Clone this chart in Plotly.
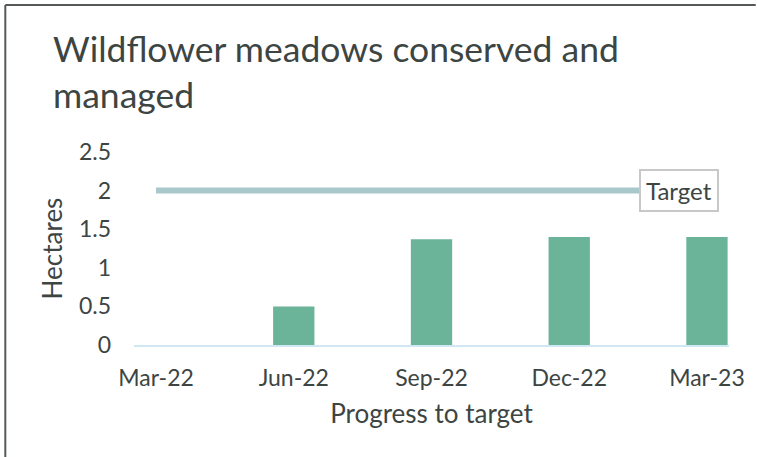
import plotly.graph_objects as go

# data
quarters = ["Mar-22", "Jun-22", "Sep-22", "Dec-22", "Mar-23"]
hectares = [0, 0.5, 1.37, 1.40, 1.40]
target = [2, 2, 2, 2, 2]
y_ticks = [0, 0.5, 1, 1.5, 2, 2.5]

W, H = 757, 457
ML, MR, MT, MB = 134, 22, 152, 112
pw, ph = W - ML - MR, H - MT - MB

TXT = "#3d4543"
FONT = "Lato"

fig = go.Figure()

fig.add_trace(go.Bar(
    x=quarters, y=hectares,
    width=0.3,
    marker=dict(color="#6bb49a", line=dict(width=0)),
    showlegend=False,
    hoverinfo="skip",
))

fig.add_trace(go.Scatter(
    x=quarters, y=target,
    mode="lines",
    line=dict(color="#a9c8cc", width=6),
    showlegend=False,
    hoverinfo="skip",
))

fig.add_annotation(
    x=quarters[-1], y=target[-1],
    text="Target",
    showarrow=False,
    xanchor="center", yanchor="middle",
    xshift=-28,
    font=dict(family=FONT, size=24, color=TXT),
    bgcolor="white",
    bordercolor="#c8c8c8",
    borderwidth=2,
    borderpad=5,
)

# outer frame (left and top edges)
def px_x(v):
    return (v - ML) / pw

def px_y(v):
    return (H - MB - v) / ph

frame = dict(color="#555a58", width=2)
fig.add_shape(type="line", xref="paper", yref="paper",
              x0=px_x(4), x1=px_x(4), y0=px_y(5), y1=px_y(H + 5), line=frame)
fig.add_shape(type="line", xref="paper", yref="paper",
              x0=px_x(4), x1=px_x(W + 5), y0=px_y(5), y1=px_y(5), line=frame)

# chart title as an annotation so the two lines anchor from the top
fig.add_annotation(
    text="Wildflower meadows conserved and<br>managed",
    xref="paper", yref="paper",
    x=px_x(50), y=px_y(25),
    xanchor="left", yanchor="top",
    align="left",
    showarrow=False,
    font=dict(family=FONT, size=35.5, color=TXT),
)

fig.update_layout(
    width=W, height=H,
    margin=dict(l=ML, r=MR, t=MT, b=MB, pad=0),
    paper_bgcolor="white",
    plot_bgcolor="white",
    font=dict(family=FONT, color=TXT),
    xaxis=dict(
        type="category",
        range=[-0.16, 4.16],
        showgrid=False,
        showline=True,
        linecolor="#cfe8f3",
        linewidth=2,
        ticks="",
        ticklabelstandoff=11,
        tickfont=dict(size=23, color=TXT),
        title=dict(text="Progress to target", font=dict(size=26, color=TXT), standoff=15),
    ),
    yaxis=dict(
        range=[0, 2.5],
        tickvals=y_ticks,
        ticktext=[f"{v:g}" for v in y_ticks],
        showgrid=False,
        zeroline=False,
        showline=False,
        ticks="",
        ticklabelstandoff=22,
        tickfont=dict(size=23, color=TXT),
        title=dict(text="Hectares", font=dict(size=26, color=TXT), standoff=8),
    ),
)

fig.write_html("out.html", config={"displayModeBar": False},
               post_script="document.body.style.margin='0';")
